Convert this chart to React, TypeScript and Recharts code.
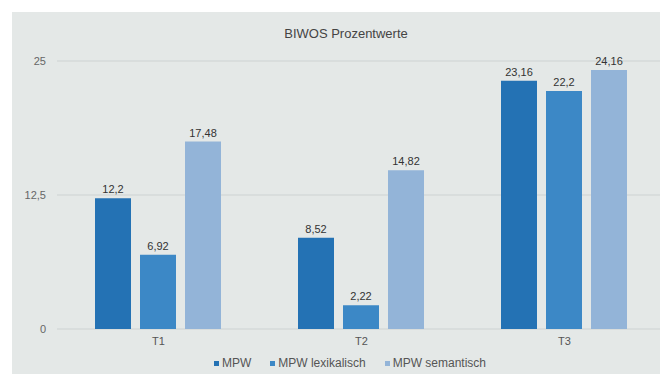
import React from 'react';
import { BarChart, Bar, XAxis, YAxis, CartesianGrid, LabelList, Legend } from 'recharts';

const categories = ['T1', 'T2', 'T3'];
const mpw = [12.2, 8.52, 23.16];
const mpwLex = [6.92, 2.22, 22.2];
const mpwSem = [17.48, 14.82, 24.16];
const yTicks = [0, 12.5, 25];
const seriesNames = ['MPW', 'MPW lexikalisch', 'MPW semantisch'];
const seriesColors = ['#2472b4', '#3c88c6', '#93b4d8'];
const title = 'BIWOS Prozentwerte';

const data = categories.map((c, i) => ({ name: c, mpw: mpw[i], lex: mpwLex[i], sem: mpwSem[i] }));
const keys = ['mpw', 'lex', 'sem'];

const fmt = (v: any) => String(v).replace('.', ',');
const FONT = '"Liberation Sans", Arial, Helvetica, sans-serif';

const LegendContent = () => (
  <div style={{ display: 'flex', justifyContent: 'center', alignItems: 'center', fontFamily: FONT, fontSize: 12, color: '#555', paddingLeft: 20 }}>
    {seriesNames.map((n, i) => (
      <div key={n} style={{ display: 'flex', alignItems: 'center', marginRight: i < 2 ? 19 : 0 }}>
        <span style={{ display: 'inline-block', width: 5, height: 5, background: seriesColors[i], marginRight: 3 }} />
        <span>{n}</span>
      </div>
    ))}
  </div>
);

export default function App() {
  return (
    <div style={{ marginLeft: 4, marginTop: 4, width: 656, height: 362, background: '#e4e8e7', position: 'relative' }}>
      <BarChart
        width={656}
        height={362}
        data={data}
        margin={{ top: 49, right: 2, bottom: 25, left: 5 }}
        barCategoryGap={38}
        barGap={9}
      >
        <text x={334} y={21} textAnchor="middle" dominantBaseline="central" style={{ fontFamily: FONT, fontSize: 13, fill: '#444' }}>
          {title}
        </text>
        <CartesianGrid vertical={false} stroke="#cdd2d2" strokeWidth={1} />
        <XAxis
          dataKey="name"
          tickLine={false}
          axisLine={false}
          height={20}
          tick={{ fontFamily: FONT, fontSize: 11, fill: '#555' }}
        />
        <YAxis
          domain={[0, 25]}
          ticks={yTicks}
          tickLine={false}
          axisLine={false}
          width={40}
          tickMargin={5}
          tickFormatter={fmt}
          tick={{ fontFamily: FONT, fontSize: 11, fill: '#666' }}
        />
        <Legend
          layout="horizontal"
          verticalAlign="middle"
          align="center"
          content={<LegendContent />}
          wrapperStyle={{ top: 344, left: 0, width: 656, height: 18 }}
        />
        {keys.map((k, i) => (
          <Bar key={k} dataKey={k} name={seriesNames[i]} fill={seriesColors[i]} isAnimationActive={false}>
            <LabelList dataKey={k} position="top" formatter={fmt} style={{ fontFamily: FONT, fontSize: 11, fill: '#333' }} />
          </Bar>
        ))}
      </BarChart>
    </div>
  );
}
